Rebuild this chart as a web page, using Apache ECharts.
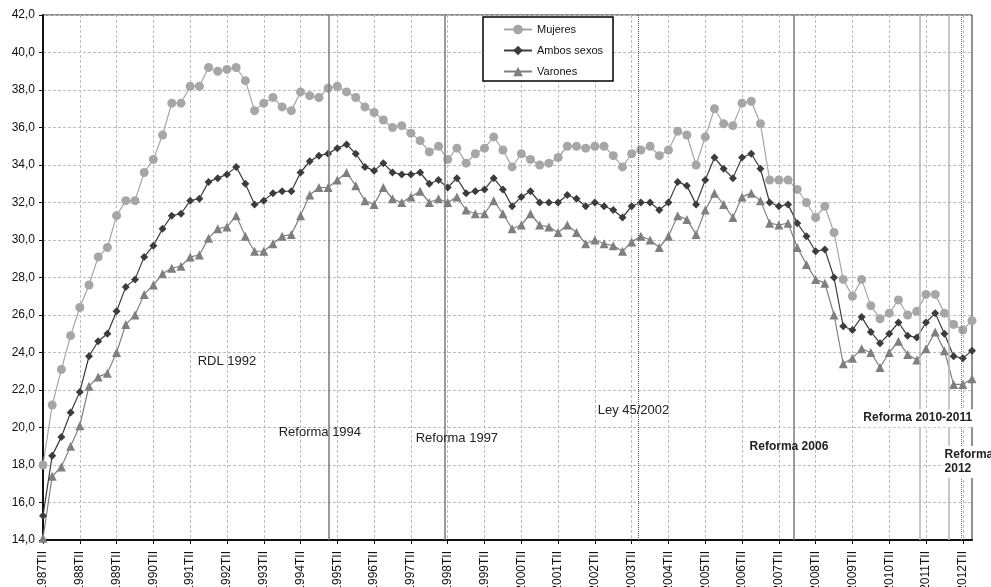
<!DOCTYPE html>
<html>
<head>
<meta charset="utf-8">
<script src="https://cdn.jsdelivr.net/npm/echarts@6/dist/echarts.min.js"></script>
<style>
  html, body { margin: 0; padding: 0; background: #fff; }
  #chart { width: 991px; height: 587px; }
</style>
</head>
<body>
<div id="chart"></div>
<script>
// trimestres 1987TII .. 2012TIII
const quarterNames = ["TI", "TII", "TIII", "TIV"];
const quarters = [];
for (let y = 1987, q = 1; quarters.length < 102; ) {
  quarters.push(y + quarterNames[q]);
  q++;
  if (q > 3) { q = 0; y++; }
}

const mujeres = [
  18.0, 21.2, 23.1, 24.9, 26.4, 27.6, 29.1, 29.6, 31.3, 32.1, 32.1, 33.6, 34.3, 35.6, 37.3, 37.3,
  38.2, 38.2, 39.2, 39.0, 39.1, 39.2, 38.5, 36.9, 37.3, 37.6, 37.1, 36.9, 37.9, 37.7, 37.6, 38.1,
  38.2, 37.9, 37.6, 37.1, 36.8, 36.4, 36.0, 36.1, 35.7, 35.3, 34.7, 35.0, 34.3, 34.9, 34.1, 34.6,
  34.9, 35.5, 34.8, 33.9, 34.6, 34.3, 34.0, 34.1, 34.4, 35.0, 35.0, 34.9, 35.0, 35.0, 34.5, 33.9,
  34.6, 34.8, 35.0, 34.5, 34.8, 35.8, 35.6, 34.0, 35.5, 37.0, 36.2, 36.1, 37.3, 37.4, 36.2, 33.2,
  33.2, 33.2, 32.7, 32.0, 31.2, 31.8, 30.4, 27.9, 27.0, 27.9, 26.5, 25.8, 26.1, 26.8, 26.0, 26.2,
  27.1, 27.1, 26.1, 25.5, 25.2, 25.7
];
const ambos = [
  15.3, 18.5, 19.5, 20.8, 21.9, 23.8, 24.6, 25.0, 26.2, 27.5, 27.9, 29.1, 29.7, 30.6, 31.3, 31.4,
  32.1, 32.2, 33.1, 33.3, 33.5, 33.9, 33.0, 31.9, 32.1, 32.5, 32.6, 32.6, 33.6, 34.2, 34.5, 34.6,
  34.9, 35.1, 34.6, 33.9, 33.7, 34.1, 33.6, 33.5, 33.5, 33.6, 33.0, 33.2, 32.8, 33.3, 32.5, 32.6,
  32.7, 33.3, 32.7, 31.8, 32.3, 32.6, 32.0, 32.0, 32.0, 32.4, 32.2, 31.8, 32.0, 31.8, 31.6, 31.2,
  31.8, 32.0, 32.0, 31.6, 32.0, 33.1, 32.9, 31.9, 33.2, 34.4, 33.8, 33.3, 34.4, 34.6, 33.8, 32.0,
  31.8, 31.9, 30.9, 30.2, 29.4, 29.5, 28.0, 25.4, 25.2, 25.9, 25.1, 24.5, 25.0, 25.6, 24.9, 24.8,
  25.6, 26.1, 25.0, 23.8, 23.7, 24.1
];
const varones = [
  14.1, 17.4, 17.9, 19.0, 20.1, 22.2, 22.7, 22.9, 24.0, 25.5, 26.0, 27.1, 27.6, 28.2, 28.5, 28.6,
  29.1, 29.2, 30.1, 30.6, 30.7, 31.3, 30.2, 29.4, 29.4, 29.8, 30.2, 30.3, 31.3, 32.4, 32.8, 32.8,
  33.2, 33.6, 32.9, 32.1, 31.9, 32.8, 32.2, 32.0, 32.3, 32.6, 32.0, 32.2, 32.0, 32.3, 31.6, 31.4,
  31.4, 32.1, 31.4, 30.6, 30.8, 31.4, 30.8, 30.7, 30.4, 30.8, 30.4, 29.8, 30.0, 29.8, 29.7, 29.4,
  29.9, 30.2, 30.0, 29.6, 30.2, 31.3, 31.1, 30.3, 31.6, 32.5, 31.9, 31.2, 32.3, 32.5, 32.1, 30.9,
  30.8, 30.9, 29.6, 28.7, 27.9, 27.7, 26.0, 23.4, 23.7, 24.2, 24.0, 23.2, 24.0, 24.6, 23.9, 23.6,
  24.2, 25.1, 24.1, 22.3, 22.3, 22.6
];

// líneas verticales de las reformas (posición en trimestres desde 1987TII)
const reformLines = [
  { at: 31.1, color: "#7a7a7a", type: "solid", width: 1.5 },
  { at: 43.67, color: "#7a7a7a", type: "solid", width: 1.5 },
  { at: 64.72, color: "#555", type: "dotted", width: 1 },
  { at: 81.57, color: "#7a7a7a", type: "solid", width: 1.5 },
  { at: 95.27, color: "#b5b5b5", type: "solid", width: 1.5 },
  { at: 98.43, color: "#b5b5b5", type: "solid", width: 1.5 },
  { at: 99.88, color: "#777", type: "dotted", width: 1 },
];
// textos de las reformas: [trimestre, valor, texto, negrita, fondo]
const reformLabels = [
  [20.0, 23.5, "RDL 1992", false, false],
  [30.1, 19.76, "Reforma 1994", false, false],
  [45.0, 19.44, "Reforma 1997", false, false],
  [64.2, 20.93, "Ley 45/2002", false, false],
  [81.1, 18.96, "Reforma 2006", true, false],
  [95.1, 20.5, "Reforma 2010-2011", true, true],
  [100.3, 18.16, "Reforma\n2012", true, true],
];

const chart = echarts.init(document.getElementById("chart"));
const font = "Liberation Sans, Arial, sans-serif";

const option = {
  animation: false,
  backgroundColor: "#fff",
  grid: {
    left: 43, right: 19, top: 15, bottom: 47,
    outerBoundsMode: "none",
    show: true, borderColor: "#222", borderWidth: 1,
  },
  legend: {
    orient: "vertical",
    left: 483, top: 17,
    padding: [7, 10, 4, 20],
    itemGap: 10,
    itemWidth: 28,
    itemHeight: 12,
    borderColor: "#000",
    borderWidth: 1.5,
    backgroundColor: "#fff",
    textStyle: { fontSize: 11, color: "#111", fontFamily: font },
    data: ["Mujeres", "Ambos sexos", "Varones"],
  },
  xAxis: [
    {
      type: "category",
      data: quarters,
      boundaryGap: false,
      axisLine: { lineStyle: { color: "#111", width: 2 } },
      axisTick: { interval: 3, length: 4, lineStyle: { color: "#111" } },
      axisLabel: {
        interval: 3, rotate: 90, fontSize: 12, color: "#111", fontFamily: font, margin: 11,
      },
      splitLine: {
        show: true, interval: 3,
        lineStyle: { color: "#bdbdbd", type: [3, 2], width: 1 },
      },
    },
    { type: "value", min: 0, max: 101, show: false },
  ],
  yAxis: {
    type: "value",
    min: 14, max: 42, interval: 2,
    axisLine: { show: true, lineStyle: { color: "#111", width: 2 } },
    axisTick: { show: true, length: 4, lineStyle: { color: "#111" } },
    axisLabel: {
      fontSize: 12, color: "#111", fontFamily: font, margin: 8,
      formatter: (v) => v.toFixed(1).replace(".", ","),
    },
    splitLine: { lineStyle: { color: "#bdbdbd", type: [3, 2], width: 1 } },
  },
  series: [
    {
      name: "Mujeres", type: "line", data: mujeres,
      symbol: "circle", symbolSize: 9, showAllSymbol: true,
      itemStyle: { color: "#a6a6a6" }, lineStyle: { color: "#a6a6a6", width: 1.2 },
      z: 3,
    },
    {
      name: "Ambos sexos", type: "line", data: ambos,
      symbol: "diamond", symbolSize: 8, showAllSymbol: true,
      itemStyle: { color: "#3c3c3c" }, lineStyle: { color: "#3c3c3c", width: 1.2 },
      z: 4,
    },
    {
      name: "Varones", type: "line", data: varones,
      symbol: "triangle", symbolSize: 9, showAllSymbol: true,
      itemStyle: { color: "#7f7f7f" }, lineStyle: { color: "#7f7f7f", width: 1.2 },
      z: 3,
    },
    {
      name: "reformas", type: "line", xAxisIndex: 1, data: [],
      silent: true, z: 2,
      markLine: {
        symbol: "none", silent: true, animation: false,
        label: { show: false },
        data: reformLines.map((r) => ({
          xAxis: r.at,
          lineStyle: { color: r.color, type: r.type, width: r.width },
        })),
      },
      markPoint: {
        symbol: "rect", symbolSize: 0, silent: true, animation: false,
        data: reformLabels.map((l) => ({
          coord: [l[0], l[1]],
          label: {
            show: true, position: "inside",
            formatter: l[2],
            fontSize: l[3] ? 12 : 13,
            fontWeight: l[3] ? "bold" : "normal",
            color: "#222",
            fontFamily: font,
            align: l[2].indexOf("\n") >= 0 ? "left" : "center",
            offset: l[2].indexOf("\n") >= 0 ? [-22, 0] : [0, 0],
            lineHeight: 14,
            backgroundColor: l[4] ? "#fff" : "transparent",
            padding: l[4] ? [2, 1] : 0,
          },
        })),
      },
    },
  ],
};
chart.setOption(option);
</script>
</body>
</html>
